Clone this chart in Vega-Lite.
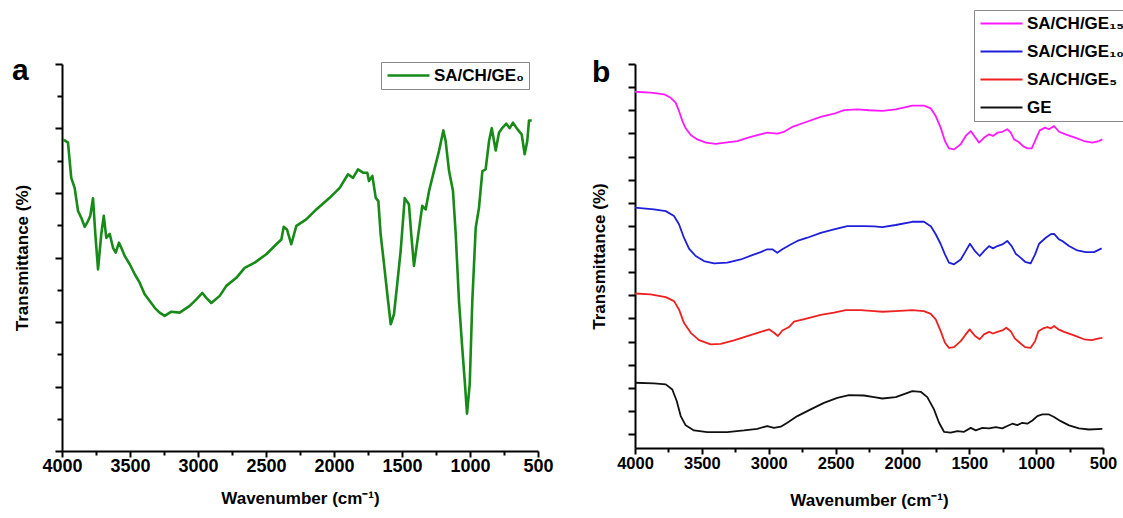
{
  "$schema": "https://vega.github.io/schema/vega-lite/v6.json",
  "background": "white",
  "padding": {"left": 12, "top": 9, "right": 0, "bottom": 0},
  "bounds": "flush",
  "spacing": 97,
  "config": {
    "view": {"stroke": null},
    "font": "Liberation Sans",
    "axis": {"grid": false, "domainColor": "black", "domainWidth": 2, "tickColor": "black", "tickWidth": 2, "labelFont": "Liberation Sans", "titleFont": "Liberation Sans", "labelFontWeight": "bold", "titleFontWeight": "bold", "labelColor": "black", "titleColor": "black"},
    "legend": {"labelFont": "Liberation Sans", "labelFontWeight": "bold", "labelColor": "black"}
  },
  "resolve": {"scale": {"color": "independent"}, "legend": {"color": "independent"}},
  "datasets": {
    "ga": [
      {"w":3993,"t":96.4},{"w":3980,"t":96.3},{"w":3956,"t":95.6},{"w":3932,"t":84.7},{"w":3907,"t":81.6},{"w":3882,"t":74.4},{"w":3858,"t":72.3},{"w":3833,"t":69.5},{"w":3809,"t":71.3},{"w":3792,"t":72.9},{"w":3772,"t":78.4},{"w":3755,"t":67.3},{"w":3735,"t":56.3},{"w":3711,"t":67.3},{"w":3693,"t":72.9},{"w":3674,"t":66.1},{"w":3649,"t":67.3},{"w":3625,"t":63.0},{"w":3605,"t":61.5},{"w":3581,"t":64.6},{"w":3564,"t":63.0},{"w":3539,"t":60.5},{"w":3502,"t":57.9},{"w":3465,"t":54.8},{"w":3429,"t":52.2},{"w":3392,"t":48.6},{"w":3355,"t":46.5},{"w":3318,"t":44.4},{"w":3282,"t":42.9},{"w":3245,"t":41.9},{"w":3196,"t":43.2},{"w":3135,"t":42.9},{"w":3061,"t":45.0},{"w":3012,"t":47.0},{"w":2968,"t":49.0},{"w":2939,"t":47.5},{"w":2902,"t":45.9},{"w":2840,"t":48.1},{"w":2792,"t":51.2},{"w":2718,"t":53.7},{"w":2657,"t":56.8},{"w":2583,"t":58.4},{"w":2498,"t":61.0},{"w":2424,"t":64.1},{"w":2387,"t":65.6},{"w":2370,"t":69.5},{"w":2346,"t":68.7},{"w":2314,"t":64.1},{"w":2277,"t":69.8},{"w":2204,"t":71.8},{"w":2130,"t":74.9},{"w":2032,"t":78.5},{"w":1958,"t":81.6},{"w":1897,"t":85.8},{"w":1860,"t":84.7},{"w":1824,"t":87.3},{"w":1787,"t":86.3},{"w":1755,"t":86.3},{"w":1743,"t":83.7},{"w":1718,"t":85.3},{"w":1693,"t":78.5},{"w":1674,"t":77.5},{"w":1657,"t":67.2},{"w":1632,"t":57.9},{"w":1608,"t":48.6},{"w":1583,"t":39.3},{"w":1559,"t":42.4},{"w":1534,"t":52.2},{"w":1510,"t":62.0},{"w":1480,"t":78.4},{"w":1449,"t":76.5},{"w":1432,"t":67.2},{"w":1412,"t":57.4},{"w":1387,"t":65.1},{"w":1351,"t":76.0},{"w":1326,"t":74.9},{"w":1301,"t":80.6},{"w":1265,"t":86.8},{"w":1228,"t":93.0},{"w":1196,"t":99.4},{"w":1179,"t":96.1},{"w":1154,"t":86.8},{"w":1125,"t":80.6},{"w":1105,"t":67.2},{"w":1081,"t":46.5},{"w":1057,"t":32.0},{"w":1037,"t":20.7},{"w":1022,"t":11.6},{"w":1002,"t":20.7},{"w":983,"t":46.5},{"w":958,"t":69.2},{"w":934,"t":75.4},{"w":909,"t":86.8},{"w":885,"t":87.3},{"w":860,"t":96.1},{"w":840,"t":100.1},{"w":811,"t":93.2},{"w":787,"t":98.7},{"w":762,"t":100.2},{"w":733,"t":101.5},{"w":708,"t":100.1},{"w":684,"t":101.8},{"w":652,"t":99.8},{"w":620,"t":98.2},{"w":598,"t":92.0},{"w":579,"t":96.1},{"w":566,"t":102.5},{"w":546,"t":102.5}
    ],
    "gb": [
      {"s":"SA/CH/GE₁₅","w":4000,"t":148.0},{"s":"SA/CH/GE₁₅","w":3883,"t":147.6},{"s":"SA/CH/GE₁₅","w":3783,"t":146.9},{"s":"SA/CH/GE₁₅","w":3733,"t":145.4},{"s":"SA/CH/GE₁₅","w":3696,"t":143.3},{"s":"SA/CH/GE₁₅","w":3671,"t":139.7},{"s":"SA/CH/GE₁₅","w":3646,"t":135.4},{"s":"SA/CH/GE₁₅","w":3621,"t":132.2},{"s":"SA/CH/GE₁₅","w":3583,"t":129.3},{"s":"SA/CH/GE₁₅","w":3534,"t":127.4},{"s":"SA/CH/GE₁₅","w":3471,"t":126.0},{"s":"SA/CH/GE₁₅","w":3396,"t":125.5},{"s":"SA/CH/GE₁₅","w":3310,"t":126.1},{"s":"SA/CH/GE₁₅","w":3235,"t":126.7},{"s":"SA/CH/GE₁₅","w":3160,"t":128.1},{"s":"SA/CH/GE₁₅","w":3085,"t":129.3},{"s":"SA/CH/GE₁₅","w":3011,"t":130.3},{"s":"SA/CH/GE₁₅","w":2936,"t":129.9},{"s":"SA/CH/GE₁₅","w":2886,"t":130.7},{"s":"SA/CH/GE₁₅","w":2824,"t":132.8},{"s":"SA/CH/GE₁₅","w":2736,"t":134.6},{"s":"SA/CH/GE₁₅","w":2611,"t":137.1},{"s":"SA/CH/GE₁₅","w":2512,"t":138.5},{"s":"SA/CH/GE₁₅","w":2437,"t":140.1},{"s":"SA/CH/GE₁₅","w":2337,"t":140.4},{"s":"SA/CH/GE₁₅","w":2250,"t":140.0},{"s":"SA/CH/GE₁₅","w":2150,"t":139.7},{"s":"SA/CH/GE₁₅","w":2050,"t":140.4},{"s":"SA/CH/GE₁₅","w":1926,"t":142.0},{"s":"SA/CH/GE₁₅","w":1839,"t":142.0},{"s":"SA/CH/GE₁₅","w":1788,"t":140.8},{"s":"SA/CH/GE₁₅","w":1751,"t":137.5},{"s":"SA/CH/GE₁₅","w":1714,"t":132.5},{"s":"SA/CH/GE₁₅","w":1682,"t":126.7},{"s":"SA/CH/GE₁₅","w":1652,"t":123.5},{"s":"SA/CH/GE₁₅","w":1614,"t":123.1},{"s":"SA/CH/GE₁₅","w":1564,"t":125.3},{"s":"SA/CH/GE₁₅","w":1527,"t":128.9},{"s":"SA/CH/GE₁₅","w":1489,"t":131.0},{"s":"SA/CH/GE₁₅","w":1457,"t":128.4},{"s":"SA/CH/GE₁₅","w":1427,"t":126.0},{"s":"SA/CH/GE₁₅","w":1390,"t":128.1},{"s":"SA/CH/GE₁₅","w":1352,"t":129.6},{"s":"SA/CH/GE₁₅","w":1323,"t":128.9},{"s":"SA/CH/GE₁₅","w":1290,"t":130.3},{"s":"SA/CH/GE₁₅","w":1253,"t":130.7},{"s":"SA/CH/GE₁₅","w":1216,"t":131.8},{"s":"SA/CH/GE₁₅","w":1190,"t":130.3},{"s":"SA/CH/GE₁₅","w":1165,"t":127.4},{"s":"SA/CH/GE₁₅","w":1133,"t":126.4},{"s":"SA/CH/GE₁₅","w":1098,"t":124.5},{"s":"SA/CH/GE₁₅","w":1066,"t":123.5},{"s":"SA/CH/GE₁₅","w":1033,"t":123.5},{"s":"SA/CH/GE₁₅","w":1003,"t":127.4},{"s":"SA/CH/GE₁₅","w":973,"t":131.3},{"s":"SA/CH/GE₁₅","w":934,"t":132.5},{"s":"SA/CH/GE₁₅","w":904,"t":131.8},{"s":"SA/CH/GE₁₅","w":866,"t":133.2},{"s":"SA/CH/GE₁₅","w":829,"t":130.7},{"s":"SA/CH/GE₁₅","w":779,"t":129.6},{"s":"SA/CH/GE₁₅","w":704,"t":128.1},{"s":"SA/CH/GE₁₅","w":642,"t":126.7},{"s":"SA/CH/GE₁₅","w":580,"t":126.0},{"s":"SA/CH/GE₁₅","w":530,"t":126.7},{"s":"SA/CH/GE₁₅","w":505,"t":127.4},
      {"s":"SA/CH/GE₁₀","w":4000,"t":97.9},{"s":"SA/CH/GE₁₀","w":3858,"t":97.2},{"s":"SA/CH/GE₁₀","w":3770,"t":96.4},{"s":"SA/CH/GE₁₀","w":3708,"t":94.3},{"s":"SA/CH/GE₁₀","w":3671,"t":90.7},{"s":"SA/CH/GE₁₀","w":3634,"t":84.9},{"s":"SA/CH/GE₁₀","w":3596,"t":80.2},{"s":"SA/CH/GE₁₀","w":3546,"t":77.0},{"s":"SA/CH/GE₁₀","w":3484,"t":74.8},{"s":"SA/CH/GE₁₀","w":3409,"t":73.8},{"s":"SA/CH/GE₁₀","w":3310,"t":74.1},{"s":"SA/CH/GE₁₀","w":3209,"t":75.5},{"s":"SA/CH/GE₁₀","w":3123,"t":77.4},{"s":"SA/CH/GE₁₀","w":3060,"t":78.7},{"s":"SA/CH/GE₁₀","w":3011,"t":79.9},{"s":"SA/CH/GE₁₀","w":2973,"t":79.9},{"s":"SA/CH/GE₁₀","w":2936,"t":78.4},{"s":"SA/CH/GE₁₀","w":2898,"t":79.9},{"s":"SA/CH/GE₁₀","w":2836,"t":82.0},{"s":"SA/CH/GE₁₀","w":2786,"t":83.5},{"s":"SA/CH/GE₁₀","w":2711,"t":84.9},{"s":"SA/CH/GE₁₀","w":2611,"t":87.0},{"s":"SA/CH/GE₁₀","w":2512,"t":88.5},{"s":"SA/CH/GE₁₀","w":2412,"t":89.9},{"s":"SA/CH/GE₁₀","w":2287,"t":89.9},{"s":"SA/CH/GE₁₀","w":2212,"t":89.8},{"s":"SA/CH/GE₁₀","w":2150,"t":89.5},{"s":"SA/CH/GE₁₀","w":2050,"t":90.4},{"s":"SA/CH/GE₁₀","w":1926,"t":91.8},{"s":"SA/CH/GE₁₀","w":1839,"t":91.8},{"s":"SA/CH/GE₁₀","w":1788,"t":89.9},{"s":"SA/CH/GE₁₀","w":1751,"t":86.4},{"s":"SA/CH/GE₁₀","w":1714,"t":82.2},{"s":"SA/CH/GE₁₀","w":1682,"t":77.7},{"s":"SA/CH/GE₁₀","w":1652,"t":74.1},{"s":"SA/CH/GE₁₀","w":1614,"t":73.4},{"s":"SA/CH/GE₁₀","w":1564,"t":75.5},{"s":"SA/CH/GE₁₀","w":1527,"t":79.1},{"s":"SA/CH/GE₁₀","w":1495,"t":82.3},{"s":"SA/CH/GE₁₀","w":1457,"t":79.1},{"s":"SA/CH/GE₁₀","w":1422,"t":77.0},{"s":"SA/CH/GE₁₀","w":1390,"t":79.1},{"s":"SA/CH/GE₁₀","w":1352,"t":81.3},{"s":"SA/CH/GE₁₀","w":1323,"t":80.3},{"s":"SA/CH/GE₁₀","w":1290,"t":81.3},{"s":"SA/CH/GE₁₀","w":1253,"t":82.0},{"s":"SA/CH/GE₁₀","w":1216,"t":83.5},{"s":"SA/CH/GE₁₀","w":1183,"t":81.3},{"s":"SA/CH/GE₁₀","w":1153,"t":78.0},{"s":"SA/CH/GE₁₀","w":1115,"t":76.2},{"s":"SA/CH/GE₁₀","w":1083,"t":74.5},{"s":"SA/CH/GE₁₀","w":1041,"t":73.8},{"s":"SA/CH/GE₁₀","w":1008,"t":77.7},{"s":"SA/CH/GE₁₀","w":978,"t":82.3},{"s":"SA/CH/GE₁₀","w":928,"t":84.9},{"s":"SA/CH/GE₁₀","w":891,"t":86.4},{"s":"SA/CH/GE₁₀","w":866,"t":86.6},{"s":"SA/CH/GE₁₀","w":829,"t":84.2},{"s":"SA/CH/GE₁₀","w":804,"t":83.5},{"s":"SA/CH/GE₁₀","w":754,"t":81.3},{"s":"SA/CH/GE₁₀","w":692,"t":79.4},{"s":"SA/CH/GE₁₀","w":629,"t":78.7},{"s":"SA/CH/GE₁₀","w":567,"t":78.7},{"s":"SA/CH/GE₁₀","w":510,"t":80.3},
      {"s":"SA/CH/GE₅","w":4000,"t":60.8},{"s":"SA/CH/GE₅","w":3883,"t":60.4},{"s":"SA/CH/GE₅","w":3770,"t":59.2},{"s":"SA/CH/GE₅","w":3708,"t":57.5},{"s":"SA/CH/GE₅","w":3671,"t":53.9},{"s":"SA/CH/GE₅","w":3634,"t":48.1},{"s":"SA/CH/GE₅","w":3583,"t":43.8},{"s":"SA/CH/GE₅","w":3521,"t":40.6},{"s":"SA/CH/GE₅","w":3434,"t":38.8},{"s":"SA/CH/GE₅","w":3359,"t":39.0},{"s":"SA/CH/GE₅","w":3260,"t":40.5},{"s":"SA/CH/GE₅","w":3160,"t":42.4},{"s":"SA/CH/GE₅","w":3060,"t":44.2},{"s":"SA/CH/GE₅","w":2998,"t":45.3},{"s":"SA/CH/GE₅","w":2960,"t":43.8},{"s":"SA/CH/GE₅","w":2931,"t":42.4},{"s":"SA/CH/GE₅","w":2898,"t":44.8},{"s":"SA/CH/GE₅","w":2848,"t":46.3},{"s":"SA/CH/GE₅","w":2811,"t":48.6},{"s":"SA/CH/GE₅","w":2711,"t":50.0},{"s":"SA/CH/GE₅","w":2611,"t":51.5},{"s":"SA/CH/GE₅","w":2512,"t":52.5},{"s":"SA/CH/GE₅","w":2424,"t":53.6},{"s":"SA/CH/GE₅","w":2312,"t":53.6},{"s":"SA/CH/GE₅","w":2212,"t":53.2},{"s":"SA/CH/GE₅","w":2150,"t":52.9},{"s":"SA/CH/GE₅","w":2050,"t":53.2},{"s":"SA/CH/GE₅","w":1926,"t":53.6},{"s":"SA/CH/GE₅","w":1839,"t":53.2},{"s":"SA/CH/GE₅","w":1788,"t":52.0},{"s":"SA/CH/GE₅","w":1751,"t":49.6},{"s":"SA/CH/GE₅","w":1714,"t":44.5},{"s":"SA/CH/GE₅","w":1682,"t":39.5},{"s":"SA/CH/GE₅","w":1652,"t":37.3},{"s":"SA/CH/GE₅","w":1614,"t":37.6},{"s":"SA/CH/GE₅","w":1564,"t":40.2},{"s":"SA/CH/GE₅","w":1527,"t":43.1},{"s":"SA/CH/GE₅","w":1497,"t":45.3},{"s":"SA/CH/GE₅","w":1457,"t":42.4},{"s":"SA/CH/GE₅","w":1422,"t":41.0},{"s":"SA/CH/GE₅","w":1390,"t":43.1},{"s":"SA/CH/GE₅","w":1352,"t":44.2},{"s":"SA/CH/GE₅","w":1323,"t":43.5},{"s":"SA/CH/GE₅","w":1290,"t":44.2},{"s":"SA/CH/GE₅","w":1253,"t":44.8},{"s":"SA/CH/GE₅","w":1223,"t":46.0},{"s":"SA/CH/GE₅","w":1190,"t":44.5},{"s":"SA/CH/GE₅","w":1160,"t":41.4},{"s":"SA/CH/GE₅","w":1123,"t":39.5},{"s":"SA/CH/GE₅","w":1083,"t":37.6},{"s":"SA/CH/GE₅","w":1041,"t":37.3},{"s":"SA/CH/GE₅","w":1008,"t":40.2},{"s":"SA/CH/GE₅","w":983,"t":44.5},{"s":"SA/CH/GE₅","w":949,"t":45.7},{"s":"SA/CH/GE₅","w":916,"t":46.3},{"s":"SA/CH/GE₅","w":891,"t":45.7},{"s":"SA/CH/GE₅","w":866,"t":46.7},{"s":"SA/CH/GE₅","w":834,"t":45.3},{"s":"SA/CH/GE₅","w":791,"t":44.2},{"s":"SA/CH/GE₅","w":717,"t":42.7},{"s":"SA/CH/GE₅","w":642,"t":41.0},{"s":"SA/CH/GE₅","w":584,"t":40.6},{"s":"SA/CH/GE₅","w":530,"t":41.4},{"s":"SA/CH/GE₅","w":505,"t":41.6},
      {"s":"GE","w":4000,"t":22.2},{"s":"GE","w":3858,"t":21.9},{"s":"GE","w":3770,"t":21.5},{"s":"GE","w":3721,"t":19.3},{"s":"GE","w":3688,"t":14.3},{"s":"GE","w":3658,"t":7.8},{"s":"GE","w":3621,"t":3.8},{"s":"GE","w":3559,"t":1.6},{"s":"GE","w":3459,"t":0.9},{"s":"GE","w":3310,"t":0.9},{"s":"GE","w":3185,"t":1.6},{"s":"GE","w":3085,"t":2.3},{"s":"GE","w":3011,"t":3.5},{"s":"GE","w":2960,"t":2.7},{"s":"GE","w":2910,"t":3.2},{"s":"GE","w":2861,"t":4.9},{"s":"GE","w":2786,"t":7.8},{"s":"GE","w":2686,"t":10.7},{"s":"GE","w":2587,"t":13.5},{"s":"GE","w":2487,"t":15.7},{"s":"GE","w":2400,"t":16.9},{"s":"GE","w":2287,"t":16.7},{"s":"GE","w":2212,"t":16.0},{"s":"GE","w":2150,"t":15.4},{"s":"GE","w":2050,"t":16.0},{"s":"GE","w":1926,"t":18.6},{"s":"GE","w":1863,"t":18.3},{"s":"GE","w":1814,"t":16.0},{"s":"GE","w":1764,"t":10.7},{"s":"GE","w":1726,"t":4.9},{"s":"GE","w":1689,"t":1.0},{"s":"GE","w":1639,"t":0.6},{"s":"GE","w":1589,"t":1.3},{"s":"GE","w":1539,"t":1.0},{"s":"GE","w":1489,"t":2.7},{"s":"GE","w":1452,"t":1.6},{"s":"GE","w":1402,"t":2.7},{"s":"GE","w":1352,"t":2.5},{"s":"GE","w":1302,"t":3.0},{"s":"GE","w":1253,"t":2.5},{"s":"GE","w":1216,"t":3.5},{"s":"GE","w":1178,"t":4.5},{"s":"GE","w":1141,"t":3.9},{"s":"GE","w":1103,"t":4.9},{"s":"GE","w":1066,"t":4.5},{"s":"GE","w":1028,"t":5.9},{"s":"GE","w":991,"t":7.8},{"s":"GE","w":954,"t":8.5},{"s":"GE","w":904,"t":8.5},{"s":"GE","w":866,"t":7.4},{"s":"GE","w":816,"t":5.6},{"s":"GE","w":754,"t":3.8},{"s":"GE","w":679,"t":2.5},{"s":"GE","w":605,"t":2.0},{"s":"GE","w":505,"t":2.3}
    ]
  },
  "hconcat": [
    {
      "width": 476,
      "height": 387,
      "title": {"text": "a", "anchor": "start", "frame": "group", "fontSize": 30, "fontWeight": "bold", "font": "Liberation Sans", "color": "black", "offset": 0, "baseline": "alphabetic", "dx": -50, "dy": 48},
      "data": {"name": "ga"},
      "mark": {"type": "line", "strokeWidth": 2.6, "strokeJoin": "round", "clip": true},
      "encoding": {
        "x": {"field": "w", "type": "quantitative", "title": "Wavenumber (cm⁻¹)",
          "scale": {"domain": [4000, 500], "nice": false, "zero": false},
          "axis": {"values": [4000,3750,3500,3250,3000,2750,2500,2250,2000,1750,1500,1250,1000,750,500], "format": "d", "labelExpr": "datum.value % 500 === 0 ? datum.label : ''", "tickSize": {"condition": {"test": "datum.value % 500 === 0", "value": 6}, "value": 4}, "labelFontSize": 18, "titleFontSize": 17, "labelPadding": 0, "titlePadding": 15, "labelFlush": false, "labelOverlap": false}},
        "y": {"field": "t", "type": "quantitative", "title": "Transmittance (%)",
          "scale": {"domain": [0, 120], "nice": false, "zero": false},
          "axis": {"values": [0,10,20,30,40,50,60,70,80,90,100,110,120], "labels": false, "tickSize": {"condition": {"test": "datum.value % 20 === 0", "value": 7}, "value": 5}, "titleFontSize": 17, "titlePadding": 23}},
        "color": {"datum": "SA/CH/GE₀", "type": "nominal", "scale": {"range": ["#178a17"]},
          "legend": {"orient": "none", "legendX": 319, "legendY": -2, "title": null, "symbolType": "M-1,0H5", "symbolSize": 196, "symbolStrokeWidth": 2.6, "labelFontSize": 17, "labelOffset": 31, "strokeColor": "#888888", "fillColor": "white", "padding": 5}}
      }
    },
    {
      "width": 468,
      "height": 384,
      "title": {"text": "b", "anchor": "start", "frame": "group", "fontSize": 30, "fontWeight": "bold", "font": "Liberation Sans", "color": "black", "offset": 0, "baseline": "alphabetic", "dx": -43, "dy": 102},
      "data": {"name": "gb"},
      "mark": {"type": "line", "strokeWidth": 1.8, "strokeJoin": "round", "clip": true},
      "encoding": {
        "x": {"field": "w", "type": "quantitative", "title": "Wavenumber (cm⁻¹)",
          "scale": {"domain": [4000, 500], "nice": false, "zero": false},
          "axis": {"values": [4000,3750,3500,3250,3000,2750,2500,2250,2000,1750,1500,1250,1000,750,500], "format": "d", "labelExpr": "datum.value % 500 === 0 ? datum.label : ''", "tickSize": {"condition": {"test": "datum.value % 500 === 0", "value": 6}, "value": 4}, "labelFontSize": 16.5, "titleFontSize": 17, "labelPadding": 1, "titlePadding": 21, "labelFlush": false, "labelOverlap": false}},
        "y": {"field": "t", "type": "quantitative", "title": "Transmittance (%)",
          "scale": {"domain": [-6, 160], "nice": false, "zero": false},
          "axis": {"values": [0,10,20,30,40,50,60,70,80,90,100,110,120,130,140,150,160], "labels": false, "tickSize": 7, "titleFontSize": 17, "titlePadding": 19}},
        "color": {"field": "s", "type": "nominal",
          "scale": {"domain": ["SA/CH/GE₁₅", "SA/CH/GE₁₀", "SA/CH/GE₅", "GE"], "range": ["#ff1aff", "#1f1fd8", "#ee2020", "#111111"]},
          "legend": {"orient": "none", "legendX": 339, "legendY": -54, "title": null, "symbolType": "M-1,0H5", "symbolSize": 196, "symbolStrokeWidth": 1.8, "labelFontSize": 17, "labelOffset": 31, "rowPadding": 10, "strokeColor": "#888888", "fillColor": "white", "padding": 5}}
      }
    }
  ]
}
